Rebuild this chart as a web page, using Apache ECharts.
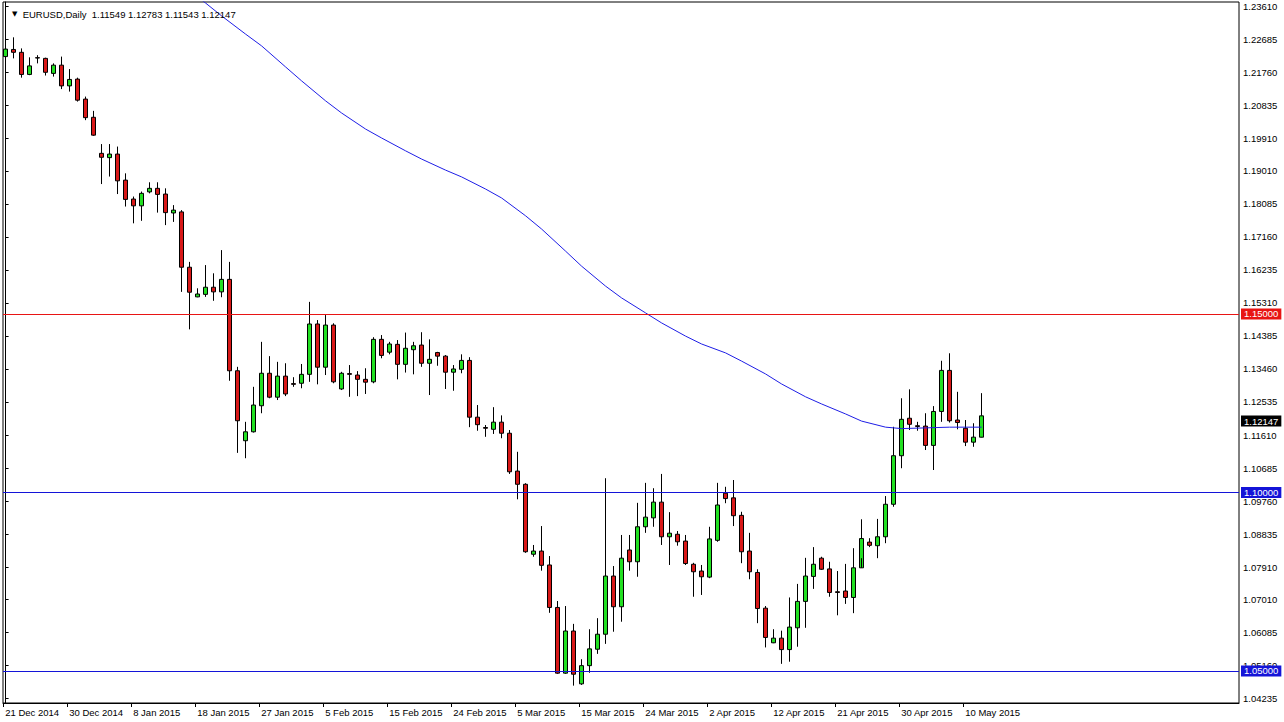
<!DOCTYPE html>
<html>
<head>
<meta charset="utf-8">
<script src="https://cdn.jsdelivr.net/npm/echarts@6/dist/echarts.min.js"></script>
<style>
html,body{margin:0;padding:0;background:#ffffff;}
#chart{width:1284px;height:722px;}
</style>
</head>
<body>
<div id="chart"></div>
<script>
// ---------------- DATA ----------------
const symbolName = 'EURUSD,Daily';
const dates = [
'21 Dec 2014','22 Dec 2014','23 Dec 2014','24 Dec 2014','25 Dec 2014','26 Dec 2014','28 Dec 2014','29 Dec 2014','30 Dec 2014','31 Dec 2014',
'1 Jan 2015','2 Jan 2015','4 Jan 2015','5 Jan 2015','6 Jan 2015','7 Jan 2015','8 Jan 2015','9 Jan 2015','11 Jan 2015','12 Jan 2015',
'13 Jan 2015','14 Jan 2015','15 Jan 2015','16 Jan 2015','18 Jan 2015','19 Jan 2015','20 Jan 2015','21 Jan 2015','22 Jan 2015','23 Jan 2015',
'25 Jan 2015','26 Jan 2015','27 Jan 2015','28 Jan 2015','29 Jan 2015','30 Jan 2015','1 Feb 2015','2 Feb 2015','3 Feb 2015','4 Feb 2015',
'5 Feb 2015','6 Feb 2015','8 Feb 2015','9 Feb 2015','10 Feb 2015','11 Feb 2015','12 Feb 2015','13 Feb 2015','15 Feb 2015','16 Feb 2015',
'17 Feb 2015','18 Feb 2015','19 Feb 2015','20 Feb 2015','22 Feb 2015','23 Feb 2015','24 Feb 2015','25 Feb 2015','26 Feb 2015','27 Feb 2015',
'1 Mar 2015','2 Mar 2015','3 Mar 2015','4 Mar 2015','5 Mar 2015','6 Mar 2015','8 Mar 2015','9 Mar 2015','10 Mar 2015','11 Mar 2015',
'12 Mar 2015','13 Mar 2015','15 Mar 2015','16 Mar 2015','17 Mar 2015','18 Mar 2015','19 Mar 2015','20 Mar 2015','22 Mar 2015','23 Mar 2015',
'24 Mar 2015','25 Mar 2015','26 Mar 2015','27 Mar 2015','29 Mar 2015','30 Mar 2015','31 Mar 2015','1 Apr 2015','2 Apr 2015','3 Apr 2015',
'5 Apr 2015','6 Apr 2015','7 Apr 2015','8 Apr 2015','9 Apr 2015','10 Apr 2015','12 Apr 2015','13 Apr 2015','14 Apr 2015','15 Apr 2015',
'16 Apr 2015','17 Apr 2015','19 Apr 2015','20 Apr 2015','21 Apr 2015','22 Apr 2015','23 Apr 2015','24 Apr 2015','26 Apr 2015','27 Apr 2015',
'28 Apr 2015','29 Apr 2015','30 Apr 2015','1 May 2015','3 May 2015','4 May 2015','5 May 2015','6 May 2015','7 May 2015','8 May 2015',
'10 May 2015','11 May 2015','12 May 2015'
];
const opens = [
1.2221,1.2241,1.2233,1.2171,1.2218,1.2216,1.2174,1.2197,1.2139,1.2158,
1.2102,1.2051,1.1950,1.1938,1.1948,1.1875,1.1822,1.1803,1.1842,1.1852,
1.1836,1.1783,1.1786,1.1631,1.1548,1.1555,1.1575,1.1562,1.1597,1.1341,
1.1145,1.1170,1.1243,1.1334,1.1267,1.1326,1.1305,1.1306,1.1331,1.1472,
1.1351,1.1469,1.1290,1.1333,1.1329,1.1317,1.1310,1.1429,1.1393,1.1415,
1.1359,1.1400,1.1413,1.1362,1.1392,1.1382,1.1337,1.1345,1.1370,1.1211,
1.1182,1.1177,1.1197,1.1166,1.1060,1.1023,1.0827,1.0836,1.0797,1.0678,
1.0494,1.0612,1.0464,1.0515,1.0561,1.0603,1.0766,1.0680,1.0839,1.0806,
1.0904,1.0929,1.0973,1.0876,1.0883,1.0864,1.0799,1.0780,1.0763,1.0866,
1.0998,1.0985,1.0936,1.0836,1.0776,1.0676,1.0579,1.0592,1.0560,1.0621,
1.0695,1.0765,1.0816,1.0786,1.0722,1.0724,1.0706,1.0789,1.0861,1.0851,
1.0876,1.0967,1.1103,1.1208,1.1187,1.1186,1.1132,1.1227,1.1342,1.1203,
1.1180,1.1141,1.11549
];
const highs = [
1.2249,1.2275,1.2244,1.2219,1.2225,1.2218,1.2202,1.2221,1.2186,1.2162,
1.2109,1.2069,1.1976,1.1976,1.1969,1.1894,1.1829,1.1843,1.1869,1.1869,
1.1852,1.1805,1.1791,1.1646,1.1572,1.1637,1.1614,1.1679,1.1646,1.1352,
1.1198,1.1296,1.1422,1.1382,1.1366,1.1362,1.1323,1.1360,1.1534,1.1483,
1.1497,1.1474,1.1338,1.1357,1.1340,1.1348,1.1435,1.1441,1.1422,1.1427,
1.1448,1.1422,1.1449,1.1429,1.1394,1.1385,1.1357,1.1387,1.1379,1.1245,
1.1189,1.1239,1.1216,1.1175,1.1114,1.1026,1.0853,1.0906,1.0822,1.0696,
1.0682,1.0632,1.0533,1.0617,1.0648,1.1040,1.0794,1.0881,1.0881,1.0971,
1.1027,1.1012,1.1052,1.0945,1.0892,1.0881,1.0803,1.0797,1.0904,1.1027,
1.1016,1.1035,1.0946,1.0887,1.0785,1.0682,1.0617,1.0613,1.0706,1.0744,
1.0817,1.0847,1.0820,1.0806,1.0780,1.0800,1.0844,1.0925,1.0872,1.0926,
1.0990,1.1184,1.1264,1.1289,1.1198,1.1222,1.1242,1.1369,1.1390,1.1282,
1.1203,1.1194,1.12783
];
const lows = [
1.2217,1.2216,1.2162,1.2169,1.2202,1.2168,1.2165,1.2130,1.2123,1.2095,
1.2043,1.1999,1.1864,1.1885,1.1836,1.1801,1.1754,1.1761,1.1838,1.1784,
1.1749,1.1758,1.1562,1.1457,1.1547,1.1548,1.1537,1.1547,1.1313,1.1111,
1.1096,1.1168,1.1222,1.1264,1.1259,1.1270,1.1296,1.1292,1.1310,1.1303,
1.1329,1.1306,1.1287,1.1268,1.1270,1.1276,1.1306,1.1376,1.1387,1.1317,
1.1336,1.1331,1.1352,1.1273,1.1355,1.1290,1.1285,1.1334,1.1183,1.1173,
1.1156,1.1164,1.1152,1.1052,1.0981,1.0831,1.0820,1.0781,1.0663,1.0492,
1.0492,1.0459,1.0461,1.0495,1.0548,1.0576,1.0610,1.0638,1.0781,1.0764,
1.0887,1.0904,1.0853,1.0797,1.0851,1.0797,1.0708,1.0713,1.0760,1.0862,
1.0970,1.0906,1.0802,1.0757,1.0634,1.0566,1.0578,1.0520,1.0526,1.0568,
1.0621,1.0730,1.0783,1.0708,1.0656,1.0688,1.0662,1.0816,1.0847,1.0816,
1.0858,1.0960,1.1068,1.1175,1.1173,1.1119,1.1063,1.1198,1.1196,1.1177,
1.1130,1.1128,1.11543
];
const closes = [
1.2242,1.2233,1.2171,1.2195,1.2217,1.2177,1.2197,1.2139,1.2157,1.2099,
1.2050,1.2001,1.1939,1.1948,1.1873,1.1821,1.1803,1.1838,1.1852,1.1835,
1.1784,1.1791,1.1631,1.1561,1.1556,1.1575,1.1562,1.1597,1.1341,1.1201,
1.1170,1.1245,1.1334,1.1267,1.1326,1.1276,1.1303,1.1331,1.1472,1.1351,
1.1469,1.1310,1.1334,1.1331,1.1317,1.1309,1.1429,1.1384,1.1416,1.1359,
1.1404,1.1411,1.1362,1.1373,1.1382,1.1337,1.1346,1.1370,1.1211,1.1190,
1.1180,1.1197,1.1166,1.1058,1.1023,1.0834,1.0836,1.0796,1.0678,1.0494,
1.0612,1.0491,1.0515,1.0562,1.0603,1.0766,1.0680,1.0816,1.0806,1.0904,
1.0931,1.0973,1.0876,1.0886,1.0862,1.0801,1.0778,1.0764,1.0870,1.0965,
1.0983,1.0935,1.0834,1.0778,1.0675,1.0594,1.0592,1.0560,1.0623,1.0695,
1.0766,1.0799,1.0785,1.0720,1.0720,1.0706,1.0789,1.0871,1.0852,1.0876,
1.0967,1.1103,1.1205,1.1191,1.1185,1.1132,1.1227,1.1342,1.1201,1.1196,
1.1141,1.1155,1.12147
];
// moving average line, read at selected bars (bar index -> value)
const maBars = [23,25,27,30,32,35,37,40,42,45,47,50,52,55,57,60,62,65,67,70,72,75,77,80,82,85,87,90,92,95,97,100,102,105,107,110,112,115,118,120,122];
const maValues = [1.2405,1.2371,1.2335,1.2284,1.2251,1.2192,1.2153,1.2097,1.2063,1.2018,1.1993,1.1957,1.1934,1.1903,1.1884,1.1850,1.1825,1.1775,1.1738,1.1676,1.1634,1.1578,1.1545,1.1503,1.1475,1.1438,1.1416,1.1391,1.1368,1.1332,1.1304,1.1268,1.1248,1.1220,1.1200,1.1183,1.1179,1.1181,1.1183,1.1183,1.1183];
// horizontal levels
const levels = [1.15, 1.10, 1.05];
// price scale labels
const yTickLabels = ['1.23610','1.22685','1.21760','1.20835','1.19910','1.19010','1.18085','1.17160','1.16235','1.15310','1.14385','1.13460','1.12535','1.11610','1.10685','1.09760','1.08835','1.07910','1.07010','1.06085','1.05160','1.04235'];
// date label every N bars
const dateLabelStep = 8;

// ---------------- STYLE ----------------
const FONT = "'Liberation Sans', Arial, sans-serif";
const FS = 9.5;
const levelColors = ['#E81414', '#1414D8', '#1414D8'];
const upColor = '#22E022';
const downColor = '#D81818';
const maColor = '#1E1EE6';
const TICK_SHIFT = 0.3;

const last = closes.length - 1;
const candleData = opens.map((o, i) => [i, o, closes[i], lows[i], highs[i]]);
const maData = maBars.map((b, k) => [b, maValues[k]]);
const yTickVals = yTickLabels.map(Number);
const xTickVals = [];
for (let i = 0; i < dates.length; i += dateLabelStep) xTickVals.push(i - TICK_SHIFT);

const fmt = v => Number(v).toFixed(5);
const headerText = symbolName + '  ' + [opens[last], highs[last], lows[last], closes[last]].map(fmt).join(' ');

const markData = levels.map((v, k) => ({
  yAxis: v,
  lineStyle: { color: levelColors[k], width: 1, type: 'solid' },
  label: {
    show: true, position: 'end', distance: 2, formatter: fmt(v),
    color: '#ffffff', backgroundColor: levelColors[k], padding: [1, 3, 0, 3],
    fontFamily: FONT, fontSize: FS
  }
}));
markData.push({
  yAxis: closes[last],
  lineStyle: { color: 'rgba(0,0,0,0)', width: 0 },
  label: {
    show: true, position: 'end', distance: 2, formatter: fmt(closes[last]),
    color: '#ffffff', backgroundColor: '#000000', padding: [1, 3, 0, 3],
    fontFamily: FONT, fontSize: FS
  }
});

const chart = echarts.init(document.getElementById('chart'), null, { renderer: 'svg' });
chart.setOption({
  animation: false,
  backgroundColor: '#ffffff',
  title: {
    text: '{t|▼}  ' + headerText,
    left: 7, top: 4,
    textStyle: {
      fontFamily: FONT, fontSize: FS, fontWeight: 'normal', color: '#000',
      rich: { t: { fontFamily: "'DejaVu Sans', sans-serif", fontSize: 7, color: '#000' } }
    }
  },
  grid: {
    left: 3, right: 45, top: 2, bottom: 19,
    show: true, borderColor: '#000', borderWidth: 1, backgroundColor: '#ffffff'
  },
  xAxis: {
    type: 'value', min: -0.325, max: 154.175,
    splitLine: { show: false },
    axisLine: { show: true, lineStyle: { color: '#000', width: 1 } },
    axisTick: { show: true, customValues: xTickVals, length: 4, lineStyle: { color: '#000' } },
    axisLabel: {
      customValues: xTickVals, align: 'left', margin: 4,
      padding: [0, 0, 0, 2],
      formatter: v => dates[Math.round(v + TICK_SHIFT)] || '',
      fontFamily: FONT, fontSize: FS, color: '#000'
    }
  },
  yAxis: {
    type: 'value', position: 'right', min: 1.041036, max: 1.237395, scale: true,
    splitLine: { show: false },
    axisLine: { show: true, lineStyle: { color: '#000', width: 1 } },
    axisTick: { show: true, customValues: yTickVals, length: 3, lineStyle: { color: '#000' } },
    axisLabel: {
      customValues: yTickVals, margin: 4, formatter: v => fmt(v),
      fontFamily: FONT, fontSize: FS, color: '#000'
    }
  },
  series: [
    {
      type: 'candlestick',
      data: candleData,
      barWidth: 5,
      z: 2,
      itemStyle: {
        color: upColor, color0: downColor,
        borderColor: '#000', borderColor0: '#000', borderWidth: 1
      }
    },
    {
      type: 'line',
      data: maData,
      showSymbol: false,
      symbol: 'none',
      z: 3,
      lineStyle: { color: maColor, width: 1 },
      markLine: {
        silent: true, symbol: ['none', 'none'], animation: false,
        data: markData
      }
    }
  ]
});
</script>
</body>
</html>
